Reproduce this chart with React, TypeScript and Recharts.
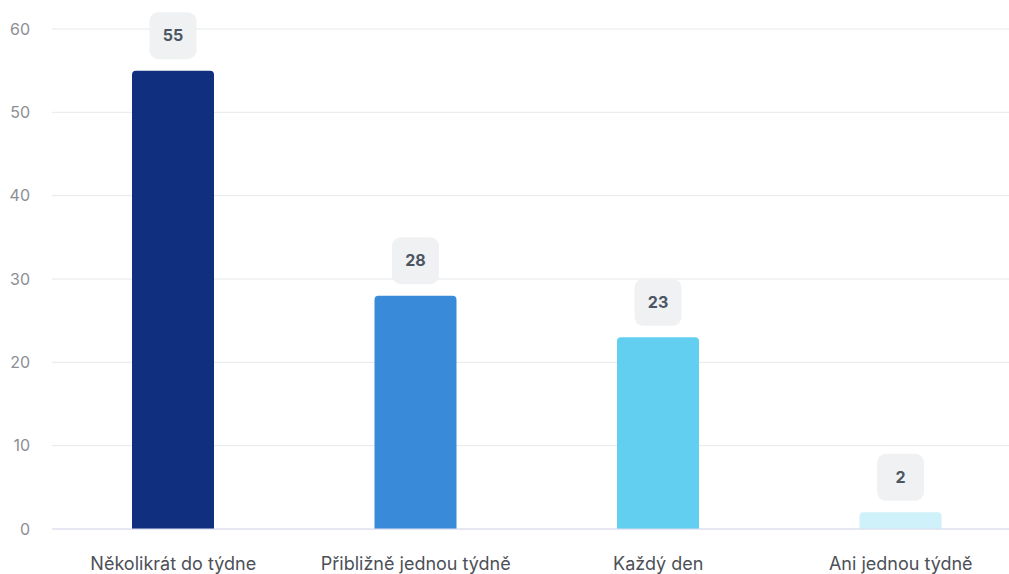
import { BarChart, Bar, XAxis, YAxis, CartesianGrid, LabelList, Cell } from "recharts";

const categories = ["Několikrát do týdne", "Přibližně jednou týdně", "Každý den", "Ani jednou týdně"];
const counts = [55, 28, 23, 2];
const barColors = ["#10307f", "#398bd9", "#62cff1", "#cff1f9"];
const yTicks = [0, 10, 20, 30, 40, 50, 60];

const chartData = categories.map((name, i) => ({ name, count: counts[i] }));

const FONT = "Inter, 'Noto Sans', sans-serif";

// rounded grey badge sitting above each bar
const ValueBadge = (props: any) => {
  const { x, y, width, value } = props;
  const cx = x + width / 2;
  const cy = y - 35;
  const size = 47;
  return (
    <g>
      <rect x={cx - size / 2} y={cy - size / 2} width={size} height={size} rx={9} ry={9} fill="#eff1f2" />
      <text
        x={cx}
        y={cy}
        dy="0.355em"
        textAnchor="middle"
        fontFamily={FONT}
        fontSize={16}
        fontWeight={700}
        fill="#4b5563"
      >
        {value}
      </text>
    </g>
  );
};

const App = () => {
  return (
    <div style={{ position: "fixed", left: 0, top: 0, width: 1009, height: 574, overflow: "hidden", background: "#fff" }}>
      <BarChart
        width={1030}
        height={574}
        data={chartData}
        margin={{ top: 29, right: 8, left: 0, bottom: 0 }}
        barSize={82}
      >
        <CartesianGrid vertical={false} stroke="#e6e8eb" />
        <XAxis
          dataKey="name"
          height={45}
          tickLine={false}
          axisLine={{ stroke: "#d9dcf2" }}
          tickMargin={22}
          tick={{ fontSize: 18, fill: "#4d5057", fontFamily: FONT }}
          interval={0}
        />
        <YAxis
          width={52}
          domain={[0, 60]}
          ticks={yTicks}
          tickLine={false}
          axisLine={false}
          tickMargin={16}
          tick={{ fontSize: 16, fill: "#8b8e94", fontFamily: FONT }}
        />
        <Bar dataKey="count" radius={[4, 4, 0, 0]} isAnimationActive={false}>
          {chartData.map((d, i) => (
            <Cell key={d.name} fill={barColors[i]} />
          ))}
          <LabelList dataKey="count" content={<ValueBadge />} />
        </Bar>
      </BarChart>
    </div>
  );
};

export default App;
